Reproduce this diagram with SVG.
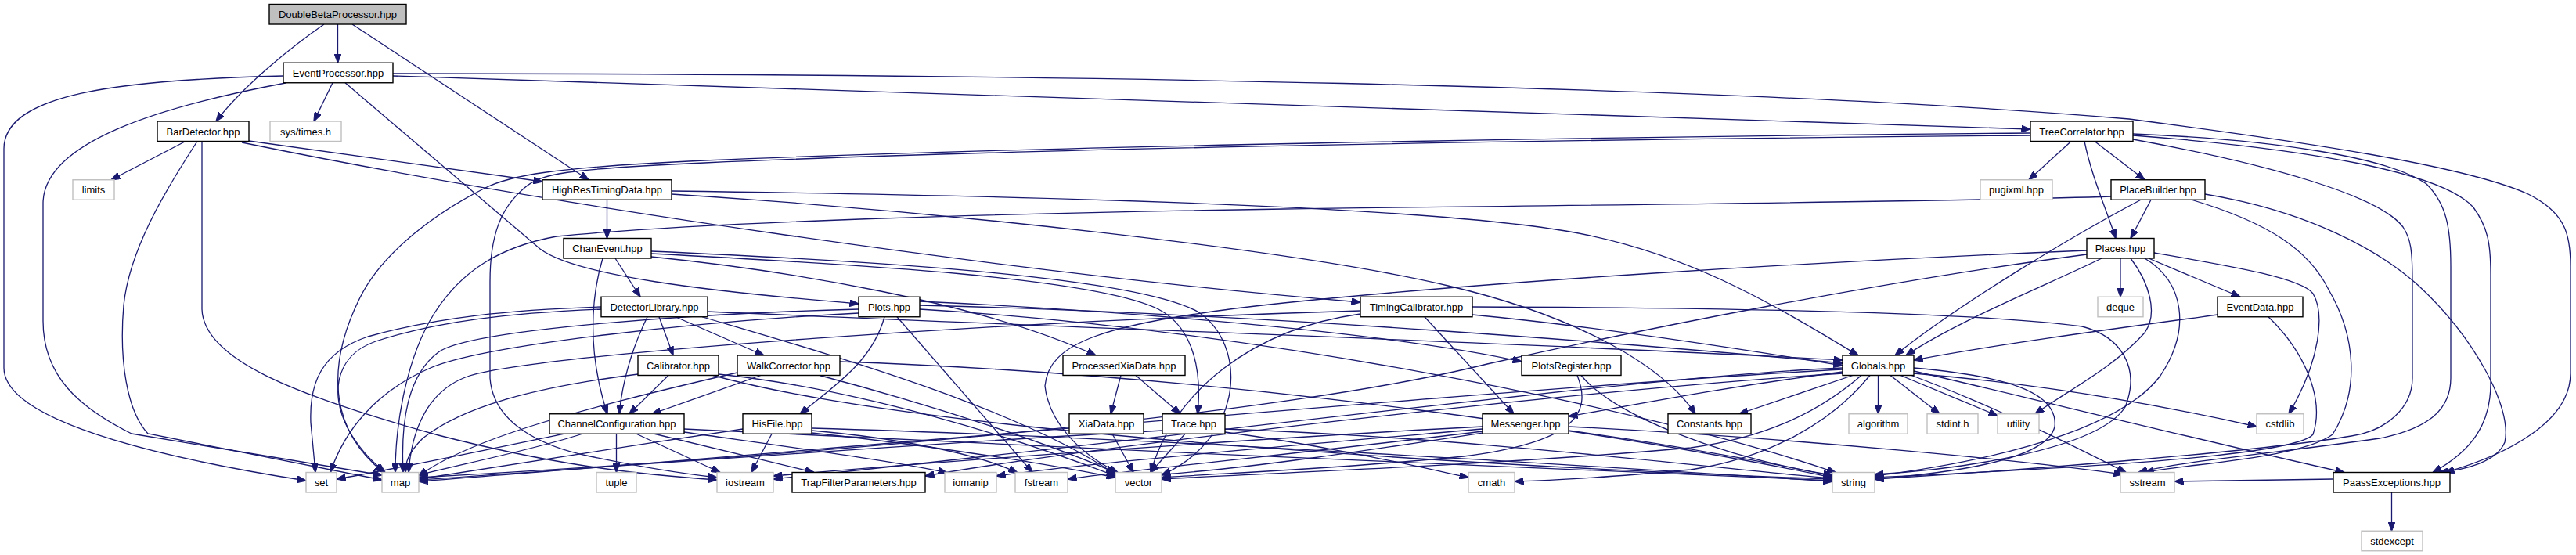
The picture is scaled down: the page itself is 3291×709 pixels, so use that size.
<svg xmlns="http://www.w3.org/2000/svg" width="3291" height="709" viewBox="0 0 3291 709">
<defs>
<style>
.e{fill:none;stroke:#191970;stroke-width:1.3;marker-end:url(#ah)}
.n rect{fill:#fff;stroke:#000;stroke-width:1.4}
.s rect{fill:#fff;stroke:#bfbfbf;stroke-width:1.4}
.r rect{fill:#bfbfbf;stroke:#000;stroke-width:1.4}
text{font-family:"Liberation Sans",Arial,Helvetica,sans-serif;font-size:13px;text-anchor:middle;fill:#000}
</style>
<marker id="ah" markerWidth="12" markerHeight="9" refX="11.5" refY="4.5" orient="auto" markerUnits="userSpaceOnUse"><path d="M0,0 L12,4.5 L0,9 z" fill="#191970" stroke="#191970" stroke-width="1"/></marker>
</defs>
<rect width="3291" height="709" fill="#fff"/>
<g id="connectors">
<path class="e" d="M431.5,31 L431.5,80.25"/>
<path class="e" d="M414,31 C375,58 312,108 276,155"/>
<path class="e" d="M450,31 L752,229.75"/>
<path class="e" d="M425,105.75 L401,155"/>
<path class="e" d="M362,97 C150,102 5,120 5,190 L5,470 C5,545 250,592 391,614"/>
<path class="e" d="M366,105.75 C210,135 55,180 55,260 L55,410 C55,480 100,520 168,554 L488,607"/>
<path class="e" d="M441,105.75 L690,318 C735,352 900,372 1097,388"/>
<path class="e" d="M502,97 L2594,165"/>
<path class="e" d="M502,94 C1300,94 2200,108 2720,152 C2950,182 3150,212 3230,248 C3278,272 3284,300 3284,340 L3284,477 C3284,540 3200,582 3124,603.5"/>
<path class="e" d="M237,180.5 L142,229.75"/>
<path class="e" d="M252,180.5 C210,245 165,320 158,390 C152,460 162,525 189,554 L488,613"/>
<path class="e" d="M258,180.5 L258,395 C260,460 380,506 560,556 C700,592 800,605 916,613"/>
<path class="e" d="M318,180 L693,232"/>
<path class="e" d="M309,182 C700,262 1300,350 1738,386"/>
<path class="e" d="M775.5,255.25 L775.5,304.5"/>
<path class="e" d="M858,244 C1300,250 1800,262 2000,295 C2150,320 2260,385 2374,454"/>
<path class="e" d="M858,248 C1200,270 1650,318 1850,365 C2000,400 2120,460 2166,528.75"/>
<path class="e" d="M2646,180.5 L2592,229.75"/>
<path class="e" d="M2663,180.5 C2672,225 2690,265 2703,304.5"/>
<path class="e" d="M2676,180.5 L2740,229.75"/>
<path class="e" d="M2594,170 C2000,175 1300,188 900,205 C700,214 650,225 620,240 C560,270 490,320 460,380 C425,450 410,540 490,603.5"/>
<path class="e" d="M2594,173 C2000,178 1300,190 900,208 C720,216 690,222 670,240 C640,265 626,300 626,360 L626,483 C630,540 690,570 754,583 C820,597 880,606 916,610"/>
<path class="e" d="M2725,178 C2900,210 3040,250 3070,290 C3080,305 3082,320 3082,360 L3082,483 C3082,520 3050,550 3004,557 C2900,575 2600,600 2395,612"/>
<path class="e" d="M2725,171 C2900,178 3050,200 3100,235 C3125,260 3131,290 3131,340 L3131,483 C3131,525 3100,548 3040,560 C2900,580 2780,590 2732,603.5"/>
<path class="e" d="M2725,173 C2950,190 3120,220 3160,265 C3178,290 3182,310 3182,350 L3182,490 C3182,540 3160,575 3108,603.5"/>
<path class="e" d="M2748,255.25 L2722,304.5"/>
<path class="e" d="M2735,255.25 C2650,300 2500,390 2421,454"/>
<path class="e" d="M2697,251 C2500,258 2000,262 1640,267 C1300,272 900,283 711,302 C640,315 590,345 555,400 C520,455 505,540 505,603.5"/>
<path class="e" d="M2817,248 C2950,270 3040,320 3090,365 C3160,430 3210,520 3200,565 C3190,590 3150,600 3116,603.5"/>
<path class="e" d="M2800,255.25 C2900,285 2950,320 2975,370 C3010,430 3015,500 2980,555 C2940,585 2800,592 2740,603.5"/>
<path class="e" d="M2709,330 L2709,379.25"/>
<path class="e" d="M2745,330 L2862,379.25"/>
<path class="e" d="M2685,330 C2620,362 2500,410 2435,454"/>
<path class="e" d="M2752,323 C2850,340 2940,355 2955,375 C2970,400 2965,460 2924,528.75"/>
<path class="e" d="M2722,330 C2745,360 2758,400 2740,425 C2700,470 2640,500 2600,528.75"/>
<path class="e" d="M2666,320 C2300,335 1900,360 1640,387 C1400,412 1340,440 1335,493 C1340,540 1380,580 1428,603.5"/>
<path class="e" d="M2666,325 C2400,360 2100,420 1900,465 C1600,540 900,590 535,610"/>
<path class="e" d="M2740,330 C2790,360 2800,420 2760,480 C2700,560 2500,595 2395,608"/>
<path class="e" d="M2833,402 C2700,420 2550,440 2445,460"/>
<path class="e" d="M2898,404.75 C2945,450 2970,510 2955,555 C2930,585 2600,600 2395,610"/>
<path class="e" d="M770,330 C755,380 750,450 776,528.75"/>
<path class="e" d="M786,330 L818,379.25"/>
<path class="e" d="M832,328 C1000,345 1250,385 1400,454"/>
<path class="e" d="M832,324 C1100,338 1400,355 1480,395 C1528,420 1535,480 1530,528.75"/>
<path class="e" d="M832,321 C1150,335 1450,355 1530,398 C1595,440 1590,560 1484,607"/>
<path class="e" d="M768,392 C650,396 560,405 470,430 C410,450 395,490 397,540 L403,603.5"/>
<path class="e" d="M768,395 C650,400 560,410 480,436 C425,455 420,510 450,557 C465,580 478,592 492,603.5"/>
<path class="e" d="M827,404.75 C805,450 795,490 791,528.75"/>
<path class="e" d="M842,404.75 L860,454"/>
<path class="e" d="M863,404.75 L976,454"/>
<path class="e" d="M904,398 C1400,420 2000,440 2354,460"/>
<path class="e" d="M897,404.75 C1050,450 1300,520 1425,606"/>
<path class="e" d="M1130,404.75 C1115,460 1070,490 1022,528.75"/>
<path class="e" d="M1146,404.75 L1319,603.5"/>
<path class="e" d="M1097,395 C900,400 600,420 560,450 C520,480 512,540 515,603.5"/>
<path class="e" d="M1097,400 C900,410 620,440 550,470 C480,500 440,550 422,603.5"/>
<path class="e" d="M1175,385 C1500,400 1800,430 1944,462"/>
<path class="e" d="M1175,390 C1600,400 2100,440 2354,464"/>
<path class="e" d="M1175,395 C1600,420 2100,520 2345,603.5"/>
<path class="e" d="M1820,404.75 L1934,528.75"/>
<path class="e" d="M1881,392 C2200,393 2517,398 2660,417 C2710,430 2735,470 2715,520 C2680,575 2500,600 2395,606"/>
<path class="e" d="M1881,402 C2050,418 2250,450 2354,467"/>
<path class="e" d="M1738,397 C1300,410 700,450 600,480 C540,500 525,560 522,603.5"/>
<path class="e" d="M1738,401 C1600,420 1500,500 1470,603.5"/>
<path class="e" d="M854,479.5 L804,528.75"/>
<path class="e" d="M815,478 C680,495 590,520 540,560 C520,580 518,592 518,603.5"/>
<path class="e" d="M918,478 C1100,497 1300,560 1425,608"/>
<path class="e" d="M911,479.5 C1200,560 2000,600 2341,612"/>
<path class="e" d="M972,479.5 L833,528.75"/>
<path class="e" d="M942,476 C750,520 600,560 535,608"/>
<path class="e" d="M1047,479.5 C1200,520 1350,570 1425,604"/>
<path class="e" d="M1073,462 C1600,480 2100,560 2341,610"/>
<path class="e" d="M1432,479.5 L1419,528.75"/>
<path class="e" d="M1451,479.5 L1508,528.75"/>
<path class="e" d="M2020,479.5 C2060,530 2200,585 2341,607"/>
<path class="e" d="M2015,479.5 C2035,530 2010,565 1870,583 C1700,600 1550,605 1484,610"/>
<path class="e" d="M2399.5,479.5 L2399.5,528.75"/>
<path class="e" d="M2415,479.5 L2478,528.75"/>
<path class="e" d="M2428,479.5 L2552,531"/>
<path class="e" d="M2367,479.5 L2222,528.75"/>
<path class="e" d="M2354,475 C2200,495 2100,515 2004,532"/>
<path class="e" d="M2445,470 C2560,480 2630,500 2625,545 C2615,590 2480,605 2395,612"/>
<path class="e" d="M2389,479.5 C2340,540 2260,585 2160,600 C2050,610 1990,614 1935,615"/>
<path class="e" d="M2378,479.5 C2320,530 2250,560 2160,572 C1900,595 1600,605 1484,612"/>
<path class="e" d="M2354,470 C2100,480 1500,560 988,612"/>
<path class="e" d="M2354,472 C2000,490 1000,580 535,615"/>
<path class="e" d="M2354,477 C2000,500 1400,570 1182,608"/>
<path class="e" d="M2442,479.5 C2550,520 2650,570 2716,603.5"/>
<path class="e" d="M2445,477 C2600,490 2750,515 2883,545"/>
<path class="e" d="M2445,474 C2600,510 2800,560 2995,603.5"/>
<path class="e" d="M787.5,554.25 L787.5,603.5"/>
<path class="e" d="M813,554.25 L920,603.5"/>
<path class="e" d="M744,554.25 C680,575 580,595 535,607"/>
<path class="e" d="M720,554.25 C620,575 500,600 430,612"/>
<path class="e" d="M874,548 C1300,570 2000,600 2341,614"/>
<path class="e" d="M836,554.25 L1040,603.5"/>
<path class="e" d="M874,552 C1000,570 1150,590 1210,604"/>
<path class="e" d="M986,554.25 L960,603.5"/>
<path class="e" d="M1037,550 C1150,560 1250,580 1300,604"/>
<path class="e" d="M1037,547 C1500,560 2100,600 2341,615"/>
<path class="e" d="M1037,553 C1200,570 1350,595 1425,610"/>
<path class="e" d="M949,548 C800,570 620,600 535,612"/>
<path class="e" d="M1421,554.25 L1448,603.5"/>
<path class="e" d="M1514,554.25 L1470,603.5"/>
<path class="e" d="M1485,550 C1200,565 800,595 535,613"/>
<path class="e" d="M1565,548 C1900,560 2200,600 2341,611"/>
<path class="e" d="M1565,552 C1700,570 1820,598 1876,610"/>
<path class="e" d="M1894,545 C1600,560 1200,590 988,608"/>
<path class="e" d="M1894,548 C1700,565 1400,590 1273,608"/>
<path class="e" d="M1894,551 C1700,575 1450,600 1364,612"/>
<path class="e" d="M1894,553 C1750,575 1600,598 1484,606"/>
<path class="e" d="M2004,545 C2300,560 2600,590 2712,606"/>
<path class="e" d="M2004,550 C2150,570 2280,595 2341,608"/>
<path class="e" d="M3055.5,629 L3055.5,678.25"/>
<path class="e" d="M2981,612 L2778,615"/>
</g>
<g id="node-DoubleBetaProcessor" class="r"><rect x="344" y="5.5" width="175" height="25.5"/><text x="431.5" y="23">DoubleBetaProcessor.hpp</text></g>
<g id="node-EventProcessor" class="n"><rect x="362" y="80.25" width="140" height="25.5"/><text x="432" y="97.75">EventProcessor.hpp</text></g>
<g id="node-BarDetector" class="n"><rect x="201" y="155" width="117" height="25.5"/><text x="259.5" y="172.5">BarDetector.hpp</text></g>
<g id="node-systimes" class="s"><rect x="345" y="155" width="91" height="25.5"/><text x="390.5" y="172.5">sys/times.h</text></g>
<g id="node-TreeCorrelator" class="n"><rect x="2594" y="155" width="131" height="25.5"/><text x="2659.5" y="172.5">TreeCorrelator.hpp</text></g>
<g id="node-limits" class="s"><rect x="93" y="229.75" width="53" height="25.5"/><text x="119.5" y="247.25">limits</text></g>
<g id="node-HighResTimingData" class="n"><rect x="693" y="229.75" width="165" height="25.5"/><text x="775.5" y="247.25">HighResTimingData.hpp</text></g>
<g id="node-pugixml" class="s"><rect x="2530" y="229.75" width="92" height="25.5"/><text x="2576" y="247.25">pugixml.hpp</text></g>
<g id="node-PlaceBuilder" class="n"><rect x="2697" y="229.75" width="120" height="25.5"/><text x="2757" y="247.25">PlaceBuilder.hpp</text></g>
<g id="node-ChanEvent" class="n"><rect x="720" y="304.5" width="112" height="25.5"/><text x="776" y="322">ChanEvent.hpp</text></g>
<g id="node-Places" class="n"><rect x="2666" y="304.5" width="86" height="25.5"/><text x="2709" y="322">Places.hpp</text></g>
<g id="node-DetectorLibrary" class="n"><rect x="768" y="379.25" width="136" height="25.5"/><text x="836" y="396.75">DetectorLibrary.hpp</text></g>
<g id="node-Plots" class="n"><rect x="1097" y="379.25" width="78" height="25.5"/><text x="1136" y="396.75">Plots.hpp</text></g>
<g id="node-TimingCalibrator" class="n"><rect x="1738" y="379.25" width="143" height="25.5"/><text x="1809.5" y="396.75">TimingCalibrator.hpp</text></g>
<g id="node-deque" class="s"><rect x="2680" y="379.25" width="58" height="25.5"/><text x="2709" y="396.75">deque</text></g>
<g id="node-EventData" class="n"><rect x="2833" y="379.25" width="109" height="25.5"/><text x="2887.5" y="396.75">EventData.hpp</text></g>
<g id="node-Calibrator" class="n"><rect x="815" y="454" width="103" height="25.5"/><text x="866.5" y="471.5">Calibrator.hpp</text></g>
<g id="node-WalkCorrector" class="n"><rect x="942" y="454" width="131" height="25.5"/><text x="1007.5" y="471.5">WalkCorrector.hpp</text></g>
<g id="node-ProcessedXiaData" class="n"><rect x="1358" y="454" width="156" height="25.5"/><text x="1436" y="471.5">ProcessedXiaData.hpp</text></g>
<g id="node-PlotsRegister" class="n"><rect x="1944" y="454" width="127" height="25.5"/><text x="2007.5" y="471.5">PlotsRegister.hpp</text></g>
<g id="node-Globals" class="n"><rect x="2354" y="454" width="91" height="25.5"/><text x="2399.5" y="471.5">Globals.hpp</text></g>
<g id="node-ChannelConfiguration" class="n"><rect x="702" y="528.75" width="172" height="25.5"/><text x="788" y="546.25">ChannelConfiguration.hpp</text></g>
<g id="node-HisFile" class="n"><rect x="949" y="528.75" width="88" height="25.5"/><text x="993" y="546.25">HisFile.hpp</text></g>
<g id="node-XiaData" class="n"><rect x="1366" y="528.75" width="95" height="25.5"/><text x="1413.5" y="546.25">XiaData.hpp</text></g>
<g id="node-Trace" class="n"><rect x="1485" y="528.75" width="80" height="25.5"/><text x="1525" y="546.25">Trace.hpp</text></g>
<g id="node-Messenger" class="n"><rect x="1894" y="528.75" width="110" height="25.5"/><text x="1949" y="546.25">Messenger.hpp</text></g>
<g id="node-Constants" class="n"><rect x="2131" y="528.75" width="106" height="25.5"/><text x="2184" y="546.25">Constants.hpp</text></g>
<g id="node-algorithm" class="s"><rect x="2362" y="528.75" width="75" height="25.5"/><text x="2399.5" y="546.25">algorithm</text></g>
<g id="node-stdint" class="s"><rect x="2462" y="528.75" width="65" height="25.5"/><text x="2494.5" y="546.25">stdint.h</text></g>
<g id="node-utility" class="s"><rect x="2552" y="528.75" width="53" height="25.5"/><text x="2578.5" y="546.25">utility</text></g>
<g id="node-cstdlib" class="s"><rect x="2883" y="528.75" width="60" height="25.5"/><text x="2913" y="546.25">cstdlib</text></g>
<g id="node-set" class="s"><rect x="391" y="603.5" width="39" height="25.5"/><text x="410.5" y="621">set</text></g>
<g id="node-map" class="s"><rect x="488" y="603.5" width="47" height="25.5"/><text x="511.5" y="621">map</text></g>
<g id="node-tuple" class="s"><rect x="762" y="603.5" width="51" height="25.5"/><text x="787.5" y="621">tuple</text></g>
<g id="node-iostream" class="s"><rect x="916" y="603.5" width="72" height="25.5"/><text x="952" y="621">iostream</text></g>
<g id="node-TrapFilterParameters" class="n"><rect x="1012" y="603.5" width="170" height="25.5"/><text x="1097" y="621">TrapFilterParameters.hpp</text></g>
<g id="node-iomanip" class="s"><rect x="1207" y="603.5" width="66" height="25.5"/><text x="1240" y="621">iomanip</text></g>
<g id="node-fstream" class="s"><rect x="1297" y="603.5" width="67" height="25.5"/><text x="1330.5" y="621">fstream</text></g>
<g id="node-vector" class="s"><rect x="1425" y="603.5" width="59" height="25.5"/><text x="1454.5" y="621">vector</text></g>
<g id="node-cmath" class="s"><rect x="1876" y="603.5" width="59" height="25.5"/><text x="1905.5" y="621">cmath</text></g>
<g id="node-string" class="s"><rect x="2341" y="603.5" width="54" height="25.5"/><text x="2368" y="621">string</text></g>
<g id="node-sstream" class="s"><rect x="2709" y="603.5" width="69" height="25.5"/><text x="2743.5" y="621">sstream</text></g>
<g id="node-PaassExceptions" class="n"><rect x="2981" y="603.5" width="149" height="25.5"/><text x="3055.5" y="621">PaassExceptions.hpp</text></g>
<g id="node-stdexcept" class="s"><rect x="3017" y="678.25" width="78" height="25.5"/><text x="3056" y="695.75">stdexcept</text></g>
</svg>
